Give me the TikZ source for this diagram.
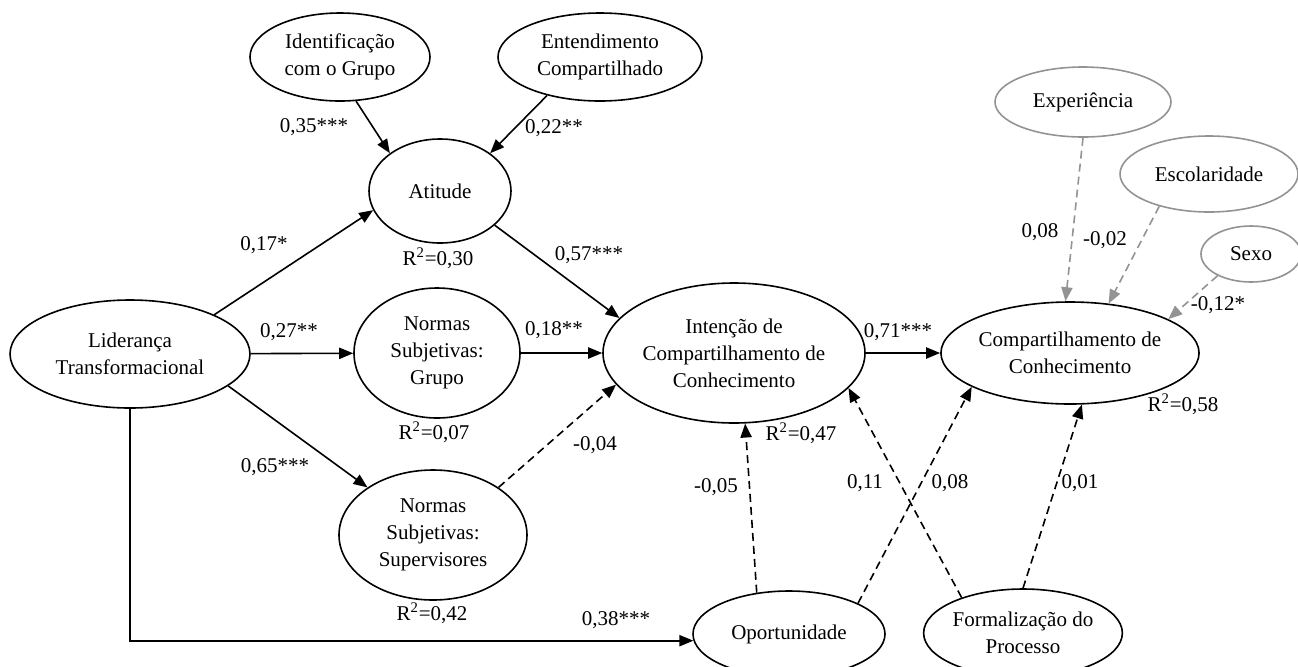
\documentclass[tikz,border=0pt]{standalone}
\usepackage{fontspec}
\setmainfont{Liberation Serif}
\usetikzlibrary{positioning}
\usetikzlibrary{shapes.geometric}
\usetikzlibrary{arrows.meta}

\begin{document}
\begin{tikzpicture}[x=0.5pt, y=-0.5pt,
    font=\fontsize{10.5}{13.5}\selectfont,
    latent/.style={ellipse, draw, line width=0.8pt, align=center, inner sep=0pt},
    control/.style={latent, draw=gray!85},
    path/.style={-{Triangle[length=7pt, width=5.6pt]}, line width=0.8pt},
    nspath/.style={path, dash pattern=on 4pt off 2.5pt},
    ctrlpath/.style={nspath, color=gray!85},
    coef/.style={inner sep=1pt}]

    \useasboundingbox (0,0) rectangle (1298,666);

    \node[latent, minimum width=90pt, minimum height=44pt] (ident) at (340,57) {Identificação\\com o Grupo};
    \node[latent, minimum width=102pt, minimum height=44pt] (entend) at (600,57) {Entendimento\\Compartilhado};
    \node[latent, minimum width=71pt, minimum height=52pt] (att) at (440,191) {Atitude};
    \node[latent, minimum width=120pt, minimum height=54pt] (lid) at (130,354) {Liderança\\Transformacional};
    \node[latent, minimum width=83pt, minimum height=65pt] (nsg) at (437,353) {Normas\\Subjetivas:\\Grupo};
    \node[latent, minimum width=94pt, minimum height=65pt] (nss) at (433,535) {Normas\\Subjetivas:\\Supervisores};
    \node[latent, minimum width=131pt, minimum height=70pt] (int) at (734,353) {Intenção de\\Compartilhamento de\\Conhecimento};
    \node[latent, minimum width=128pt, minimum height=51pt] (comp) at (1070,353) {Compartilhamento de\\Conhecimento};
    \node[latent, minimum width=96pt, minimum height=43pt] (opp) at (789,634) {Oportunidade};
    \node[latent, minimum width=97pt, minimum height=44pt] (form) at (1023,633) {Formalização do\\Processo};

    \node[control, minimum width=88pt, minimum height=35pt] (exp) at (1083,102) {Experiência};
    \node[control, minimum width=89pt, minimum height=38pt] (esc) at (1209,174) {Escolaridade};
    \node[control, minimum width=50pt, minimum height=28pt] (sex) at (1251,254) {Sexo};

    \draw[path] (ident.290) -- (att.143.5);
    \draw[path] (entend.216.7) -- (att.37.2);
    \draw[path] (lid.25.7) -- (att.196.7);
    \draw[path] (lid) -- (nsg);
    \draw[path] (lid.342.7) -- (nss.144.4);
    \draw[path] (att.328) -- (int.163.7);
    \draw[path] (nsg) -- (int);
    \draw[nspath] (nss.36.2) -- (int.195.6);
    \draw[path] (int) -- (comp);
    \draw[path] (lid.south) |- (opp.184);
    \draw[nspath] (opp.128) -- (int.279);
    \draw[nspath] (opp.24) -- (comp.199.5);
    \draw[nspath] (form.150) -- (int.343.4);
    \draw[nspath] (form.90) -- (comp.283.5);
    \draw[ctrlpath] (exp.270) -- (comp.95.6);
    \draw[ctrlpath] (esc.213.2) -- (comp.52.6);
    \draw[ctrlpath] (sex.213.3) -- (comp.19.8);

    \node[coef] (c35) at (314,127) {0,35***};
    \node[coef] (c22) at (554,128) {0,22**};
    \node[coef] (c17) at (264,245) {0,17*};
    \node[coef] (c57) at (589,255) {0,57***};
    \node[coef] (c27) at (289,332) {0,27**};
    \node[coef] (c18) at (554,330) {0,18**};
    \node[coef] (c65) at (275,467) {0,65***};
    \node[coef] (c04) at (595,445) {-0,04};
    \node[coef] (c38) at (616,620) {0,38***};
    \node[coef] (c05) at (716,487) {-0,05};
    \node[coef] (c11) at (865,483) {0,11};
    \node[coef] (c08) at (950,483) {0,08};
    \node[coef] (c01) at (1080,483) {0,01};
    \node[coef] (c71) at (898,332) {0,71***};
    \node[coef] (cexp) at (1040,232) {0,08};
    \node[coef] (cesc) at (1105,240) {-0,02};
    \node[coef] (csex) at (1218,305) {-0,12*};

    \node[coef] (r30) at (438,258) {R\textsuperscript{2}=0,30};
    \node[coef] (r07) at (434,432) {R\textsuperscript{2}=0,07};
    \node[coef] (r42) at (432,613) {R\textsuperscript{2}=0,42};
    \node[coef] (r47) at (801,433) {R\textsuperscript{2}=0,47};
    \node[coef] (r58) at (1183,404) {R\textsuperscript{2}=0,58};

\end{tikzpicture}
\end{document}
